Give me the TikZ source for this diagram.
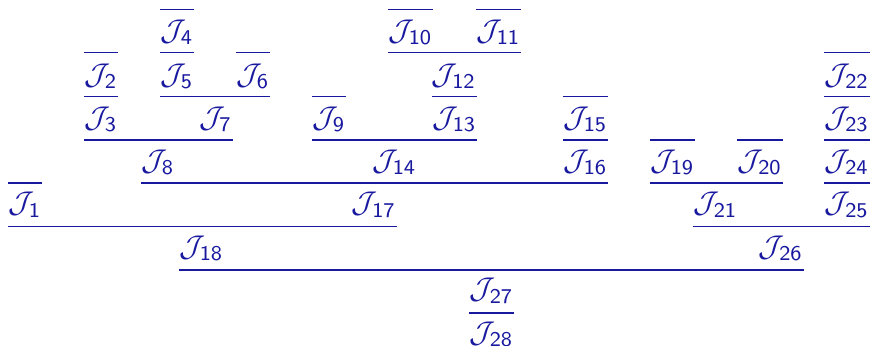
\documentclass[tikz,border=0pt]{standalone}
\usepackage{amsmath,amssymb}
\usepackage{tikz}
\usetikzlibrary{calc}
\definecolor{JBlue}{RGB}{25,25,160}
\newcommand{\jdg}[1]{\mathcal{J}_{\mathsf{#1}}}

\begin{document}
\begin{tikzpicture}[x=0.3333pt,y=-0.3333pt,
    jnode/.style={inner sep=0pt,text=JBlue},
    infer/.style={draw=JBlue,line width=0.4pt}]
  \useasboundingbox (0,0) rectangle (870,346);
  % rule heights
  \coordinate (l0) at (0,9.3);
  \coordinate (l1) at (0,52.5);
  \coordinate (l2) at (0,96.7);
  \coordinate (l3) at (0,140);
  \coordinate (l4) at (0,183);
  \coordinate (l5) at (0,226.7);
  \coordinate (l6) at (0,270);
  \coordinate (l7) at (0,313);
  % judgements
  \node[jnode] (J4)  at (177,32)    {$\jdg{4}$};
  \node[jnode] (J10) at (410.5,32)  {$\jdg{10}$};
  \node[jnode] (J11) at (498.5,32)  {$\jdg{11}$};
  \node[jnode] (J2)  at (101,76)    {$\jdg{2}$};
  \node[jnode] (J5)  at (177,76)    {$\jdg{5}$};
  \node[jnode] (J6)  at (253,76)    {$\jdg{6}$};
  \node[jnode] (J12) at (454,76)    {$\jdg{12}$};
  \node[jnode] (J22) at (847,76)    {$\jdg{22}$};
  \node[jnode] (J3)  at (101,119)   {$\jdg{3}$};
  \node[jnode] (J7)  at (215.5,119) {$\jdg{7}$};
  \node[jnode] (J9)  at (329,119)   {$\jdg{9}$};
  \node[jnode] (J13) at (454.5,119) {$\jdg{13}$};
  \node[jnode] (J15) at (585.5,119) {$\jdg{15}$};
  \node[jnode] (J23) at (847,119)   {$\jdg{23}$};
  \node[jnode] (J8)  at (158,162)   {$\jdg{8}$};
  \node[jnode] (J14) at (394.5,162) {$\jdg{14}$};
  \node[jnode] (J16) at (585.5,162) {$\jdg{16}$};
  \node[jnode] (J19) at (672.5,162) {$\jdg{19}$};
  \node[jnode] (J20) at (760,162)   {$\jdg{20}$};
  \node[jnode] (J24) at (847,162)   {$\jdg{24}$};
  \node[jnode] (J1)  at (25,205)    {$\jdg{1}$};
  \node[jnode] (J17) at (374,205)   {$\jdg{17}$};
  \node[jnode] (J21) at (715.5,205) {$\jdg{21}$};
  \node[jnode] (J25) at (847,205)   {$\jdg{25}$};
  \node[jnode] (J18) at (201.5,248) {$\jdg{18}$};
  \node[jnode] (J26) at (781,248)   {$\jdg{26}$};
  \node[jnode] (J27) at (491.5,291) {$\jdg{27}$};
  \node[jnode] (J28) at (491.5,334) {$\jdg{28}$};
  % inference lines
  \draw[infer] (J4.west |- l0) -- (J4.east |- l0);
  \draw[infer] (J10.west |- l0) -- (J10.east |- l0);
  \draw[infer] (J11.west |- l0) -- (J11.east |- l0);
  \draw[infer] (J2.west |- l1) -- (J2.east |- l1);
  \draw[infer] (J5.west |- l1) -- (J5.east |- l1);
  \draw[infer] (J6.west |- l1) -- (J6.east |- l1);
  \draw[infer] (J10.west |- l1) -- (J11.east |- l1);
  \draw[infer] (J22.west |- l1) -- (J22.east |- l1);
  \draw[infer] (J3.west |- l2) -- (J3.east |- l2);
  \draw[infer] (J5.west |- l2) -- (J6.east |- l2);
  \draw[infer] (J9.west |- l2) -- (J9.east |- l2);
  \draw[infer] (J13.west |- l2) -- (J13.east |- l2);
  \draw[infer] (J15.west |- l2) -- (J15.east |- l2);
  \draw[infer] (J23.west |- l2) -- (J23.east |- l2);
  \draw[infer] (J3.west |- l3) -- (J7.east |- l3);
  \draw[infer] (J9.west |- l3) -- (J13.east |- l3);
  \draw[infer] (J16.west |- l3) -- (J16.east |- l3);
  \draw[infer] (J19.west |- l3) -- (J19.east |- l3);
  \draw[infer] (J20.west |- l3) -- (J20.east |- l3);
  \draw[infer] (J24.west |- l3) -- (J24.east |- l3);
  \draw[infer] (J1.west |- l4) -- (J1.east |- l4);
  \draw[infer] (J8.west |- l4) -- (J16.east |- l4);
  \draw[infer] (J19.west |- l4) -- (J20.east |- l4);
  \draw[infer] (J25.west |- l4) -- (J25.east |- l4);
  \draw[infer] (J1.west |- l5) -- (J17.east |- l5);
  \draw[infer] (J21.west |- l5) -- (J25.east |- l5);
  \draw[infer] (J18.west |- l6) -- (J26.east |- l6);
  \draw[infer] (J27.west |- l7) -- (J27.east |- l7);
\end{tikzpicture}
\end{document}
